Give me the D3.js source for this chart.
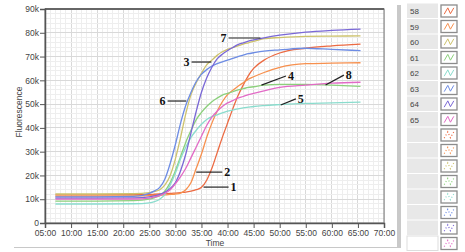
<!DOCTYPE html>
<html>
<head>
<meta charset="utf-8">
<script src="https://cdn.jsdelivr.net/npm/d3@7"></script>
<style>
  html, body { margin: 0; padding: 0; background: #fff; }
  svg { display: block; font-family: "Liberation Sans", Arial, sans-serif; }
</style>
</head>
<body>
<svg id="chart" width="465" height="252"></svg>
<script>
// time in minutes, values in k
var times = [7, 15, 22, 25, 26, 27, 28, 29, 30, 31, 32, 33, 34, 35, 36, 37, 38, 39, 40, 41, 42, 43, 44, 45, 47, 50, 55, 60, 65.5];

var s58 = [11.8, 11.8, 11.9, 12, 12.1, 12.2, 12.3, 12.4, 12.6, 12.8, 13, 13.4, 14, 15, 18, 23, 29.5, 36, 42, 48, 53.5, 58, 62, 65, 68.5, 71.5, 73.5, 74.5, 75.2];
var s59 = [11.3, 11.3, 11.4, 11.5, 11.6, 11.7, 11.8, 12, 12.2, 12.6, 14, 17, 23, 29, 36, 42, 47, 51, 54, 55.8, 57.5, 59, 60.5, 61.5, 63.3, 65.5, 67, 67.2, 67.4];
var s60 = [12.2, 12.2, 12.3, 12.8, 13.3, 14, 16, 20, 27, 36, 46, 54, 59, 63, 66.5, 68.5, 70.5, 72, 73, 73.8, 74.5, 75.2, 75.8, 76.4, 77.5, 78, 78.5, 78.6, 78.7];
var s61 = [9.2, 9.2, 9.4, 10, 10.7, 11.5, 13.5, 17, 22, 28, 34, 39, 43.5, 46.5, 49, 51, 52.5, 53.8, 54.5, 55.2, 56, 56.5, 57, 57.3, 58, 58.3, 58.3, 58, 57.5];
var s62 = [8, 8, 8.1, 8.5, 9, 10, 12, 16, 21, 27, 32, 36, 39, 41.5, 43.5, 44.7, 45.5, 46.3, 47, 47.5, 48, 48.4, 48.7, 49, 49.4, 49.8, 50.3, 50.5, 50.8];
var s63 = [11, 11, 11.2, 12.5, 13.5, 15, 18.5, 25, 33, 42, 49.5, 55, 59.5, 62.5, 64.5, 66, 67, 67.8, 68.5, 69.2, 70, 70.6, 71.2, 71.6, 72.3, 72.8, 73.5, 73, 72.5];
var s64 = [10.5, 10.5, 10.6, 11, 11.4, 12, 13, 14.5, 17, 22, 29, 38, 47, 55, 61, 65.5, 69, 71, 72.5, 73.8, 75, 75.8, 76.5, 77, 77.9, 79, 80.3, 81, 81.5];
var s65 = [10, 10, 10.1, 10.5, 11, 11.5, 12.5, 14, 16.5, 19.5, 23, 27.5, 32, 36.5, 41, 44.5, 47, 49, 50.5, 51.5, 52.5, 53.2, 54, 54.5, 55.6, 57, 58, 58.8, 59.2];

var seriesNames = ["58", "59", "60", "61", "62", "63", "64", "65"];
var seriesValues = [s58, s59, s60, s61, s62, s63, s64, s65];
var seriesColors = ["#ec6a42", "#f7904e", "#cdc26c", "#8cd07c", "#8adccd", "#6d8ce4", "#7a68d6", "#e26ac6"];

var xTicks = [5, 10, 15, 20, 25, 30, 35, 40, 45, 50, 55, 60, 65, 70];
var yTicks = [0, 10, 20, 30, 40, 50, 60, 70, 80, 90];

// callouts: label, point on curve (t, k), end of leader (t, k), side
var noteLabels = ["1", "2", "3", "4", "5", "6", "7", "8"];
var noteCurve = [[35.4, 15.1], [34.0, 21.4], [36.9, 67.7], [46.5, 58.0], [50.2, 49.6], [32.1, 51.3], [46.3, 77.8], [58.8, 58.0]];
var noteEnd = [[40.2, 15.1], [39.0, 21.4], [33.1, 67.7], [51.2, 61.8], [53.1, 52.2], [28.5, 51.3], [40.2, 77.8], [62.3, 62.2]];

var svg = d3.select("#chart");

var x = d3.scaleLinear().domain([5, 70]).range([45, 384]);
var y = d3.scaleLinear().domain([0, 90]).range([223, 9]);

// plot background
svg.append("rect").attr("x", 45).attr("y", 9).attr("width", 339).attr("height", 214).attr("fill", "#fff");

// minor grid
var grid = svg.append("g");
d3.range(5, 70.01, 1).forEach(function(t) {
  grid.append("line").attr("x1", x(t)).attr("x2", x(t)).attr("y1", 9).attr("y2", 223)
    .attr("stroke", t % 5 === 0 ? "#d9d9d9" : "#eeeeee").attr("stroke-width", 1).attr("shape-rendering", "crispEdges");
});
d3.range(0, 90.01, 2).forEach(function(v) {
  grid.append("line").attr("x1", 45).attr("x2", 384).attr("y1", y(v)).attr("y2", y(v))
    .attr("stroke", v % 10 === 0 ? "#d9d9d9" : "#eeeeee").attr("stroke-width", 1).attr("shape-rendering", "crispEdges");
});

// curves
var line = d3.line()
  .x(function(d) { return x(d[0]); })
  .y(function(d) { return y(d[1]); })
  .curve(d3.curveMonotoneX);

seriesValues.forEach(function(vals, i) {
  var pts = times.map(function(t, j) { return [t, vals[j]]; });
  svg.append("path").datum(pts)
    .attr("d", line)
    .attr("fill", "none")
    .attr("stroke", seriesColors[i])
    .attr("stroke-width", 1.3);
});

// frame
svg.append("rect").attr("x", 45).attr("y", 9).attr("width", 339).attr("height", 214)
  .attr("fill", "none").attr("stroke", "#8a8a8a").attr("stroke-width", 1.2);
svg.append("line").attr("x1", 45).attr("x2", 384).attr("y1", 9).attr("y2", 9).attr("stroke", "#666").attr("stroke-width", 2);

// axes
var xAxis = svg.append("g").attr("transform", "translate(0,223)")
  .call(d3.axisBottom(x).tickValues(xTicks).tickSize(5).tickPadding(2)
    .tickFormat(function(d) { return (d < 10 ? "0" : "") + d + ":00"; }));
var yAxis = svg.append("g").attr("transform", "translate(45,0)")
  .call(d3.axisLeft(y).tickValues(yTicks).tickSize(5).tickPadding(1)
    .tickFormat(function(d) { return d === 0 ? "0" : d + "k"; }));
[xAxis, yAxis].forEach(function(a) {
  a.select(".domain").attr("stroke", "#555").attr("stroke-width", 1.5);
  a.selectAll(".tick line").attr("stroke", "#555");
  a.selectAll(".tick text").attr("fill", "#444").style("font-size", "8.5px");
});

svg.append("text").attr("x", 215).attr("y", 246).attr("text-anchor", "middle")
  .attr("fill", "#444").style("font-size", "8.5px").text("Time");
svg.append("text").attr("transform", "translate(22,112) rotate(-90)").attr("text-anchor", "middle")
  .attr("fill", "#444").style("font-size", "8.5px").text("Fluorescence");

// callouts
noteLabels.forEach(function(lab, i) {
  var cx = x(noteCurve[i][0]), cy = y(noteCurve[i][1]);
  var ex = x(noteEnd[i][0]), ey = y(noteEnd[i][1]);
  svg.append("line").attr("x1", cx).attr("y1", cy).attr("x2", ex).attr("y2", ey)
    .attr("stroke", "#222").attr("stroke-width", 1.2);
  var right = ex > cx;
  svg.append("text")
    .attr("x", right ? ex + 2 : ex - 2)
    .attr("y", ey + 4)
    .attr("text-anchor", right ? "start" : "end")
    .attr("fill", "#111")
    .style("font-family", "'Liberation Serif', 'Times New Roman', serif")
    .style("font-size", "12px").style("font-weight", "bold")
    .text(lab);
});

// bottom border and divider
svg.append("line").attr("x1", 14).attr("x2", 397).attr("y1", 247.5).attr("y2", 247.5).attr("stroke", "#c8c8c8");
svg.append("rect").attr("x", 397).attr("y", 5).attr("width", 4).attr("height", 243).attr("fill", "#c9c9c9");

// legend
var legend = svg.append("g");
var zig = [[0.1, 0.85], [0.4, 0.15], [0.62, 0.8], [0.9, 0.15]];
d3.range(16).forEach(function(i) {
  var top = 5 + i * 15.5;
  var col = seriesColors[i % 8];
  var last = i === 15;
  legend.append("rect").attr("x", 407).attr("y", top - 1.5).attr("width", 31).attr("height", 14.5)
    .attr("fill", last ? "#fff" : "#e8e8e8").attr("stroke", last ? "#ddd" : "none");
  if (i < 8) {
    legend.append("text").attr("x", 410).attr("y", top + 9).attr("fill", "#444")
      .style("font-size", "8px").text(seriesNames[i]);
  }
  legend.append("rect").attr("x", 441).attr("y", top).attr("width", 16).attr("height", 12)
    .attr("fill", "#fff").attr("stroke", "#8c8c8c").attr("stroke-width", 1.3);
  var pts = zig.map(function(p) { return [443 + p[0] * 12, top + 1.5 + p[1] * 9]; });
  if (i < 8) {
    legend.append("path").attr("d", d3.line()(pts)).attr("fill", "none")
      .attr("stroke", col).attr("stroke-width", 1);
  } else {
    legend.append("path").attr("d", d3.line()(pts)).attr("fill", "none")
      .attr("stroke", col).attr("stroke-width", 1.2).attr("stroke-dasharray", "1,2.2");
  }
});
</script>
</body>
</html>
